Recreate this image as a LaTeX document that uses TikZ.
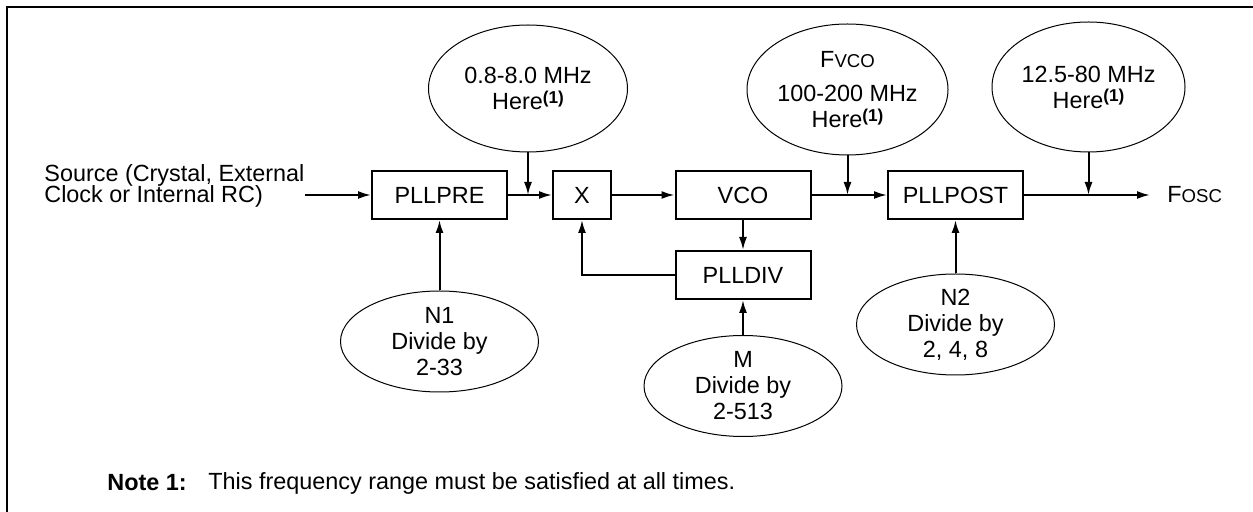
\documentclass[tikz,border=0pt]{standalone}
\usepackage{fontspec}
\setmainfont{Liberation Sans}
\usepackage{tikz}
\usetikzlibrary{arrows.meta,positioning,shapes.geometric}

\newcommand{\smc}[1]{{\fontsize{9.3}{9.3}\selectfont #1}}
\newcommand{\here}{Here\raisebox{0.5ex}{\fontsize{8.6}{8.6}\selectfont\bfseries(1)}}

\begin{document}
\setlength{\lineskiplimit}{-10pt}
\begin{tikzpicture}[x=0.5pt,y=-0.5pt,
  font=\fontsize{11.7}{13}\selectfont,
  blk/.style={draw,line width=1pt,minimum width=67.5pt,minimum height=24pt,inner sep=0pt},
  oval/.style={draw,ellipse,line width=0.5pt,inner sep=0pt,align=center},
  arr/.style={line width=1pt,-{Latex[length=6.5pt,width=4pt]}}]
\useasboundingbox (0,0) rectangle (1253,512);
% frame (left and top edges only)
\draw[line width=1pt] (7,512) -- (7,7) -- (1253,7);
% PLL chain
\node[blk] (pllpre) at (439.5,195) {PLLPRE};
\node[blk,minimum width=29pt] (mul) at (582,195) {X};
\node[blk] (vco) at (743,195) {VCO};
\node[blk] (plldiv) at (743,275) {PLLDIV};
\node[blk] (pllpost) at (955.5,195) {PLLPOST};
% input / output labels
\node[anchor=west,align=left,inner sep=0pt,font=\fontsize{11.7}{10.4}\selectfont] (src) at (44,186)
  {Source (Crystal, External\\Clock or Internal RC)};
\node[anchor=west,inner sep=0pt] (fosc) at (1167,195) {F\smc{OSC}};
\draw[arr] (src.east |- pllpre) -- (pllpre);
\draw[arr] (pllpre) -- (mul);
\draw[arr] (mul) -- (vco);
\draw[arr] (vco) -- (pllpost);
\draw[arr,shorten >=8.5pt] (pllpost) -- (fosc);
\draw[arr] (vco) -- (plldiv);
\draw[arr] (plldiv.west) -| (mul);
% frequency limits (top)
\foreach \nm/\cx/\cy/\w/\h/\tgt/\txt in {%
  fin/528/88.5/99.5/63.5/pllpre/{0.8-8.0 MHz\\\here},%
  fvco/847.5/89.5/100.5/65.5/vco/{F\smc{VCO}\\[4pt]100-200 MHz\\\here},%
  fout/1088.5/87/96.5/65/pllpost/{12.5-80 MHz\\\here}}{%
  \node[oval,minimum width=\w pt,minimum height=\h pt] (\nm) at (\cx,\cy) {\txt};
  \draw[arr] (\nm) -- (\nm |- \tgt);
}
% dividers (bottom)
\foreach \nm/\cx/\cy/\tgt/\txt in {%
  nfirst/439.5/341.5/pllpre/{N1\\Divide by\\2-33},%
  mdiv/743/386/plldiv/{M\\Divide by\\2-513},%
  nsecond/955.5/324.5/pllpost/{N2\\Divide by\\2, 4, 8}}{%
  \node[oval,minimum width=99pt,minimum height=50.5pt] (\nm) at (\cx,\cy) {\txt};
  \draw[arr] (\nm) -- (\tgt);
}
% note
\node[anchor=west,inner sep=0pt,font=\fontsize{11.7}{13}\selectfont\bfseries] (note) at (107,483) {Note 1:};
\node[anchor=west,inner sep=0pt] (notetxt) at (208,483) {This frequency range must be satisfied at all times.};
\end{tikzpicture}
\end{document}
